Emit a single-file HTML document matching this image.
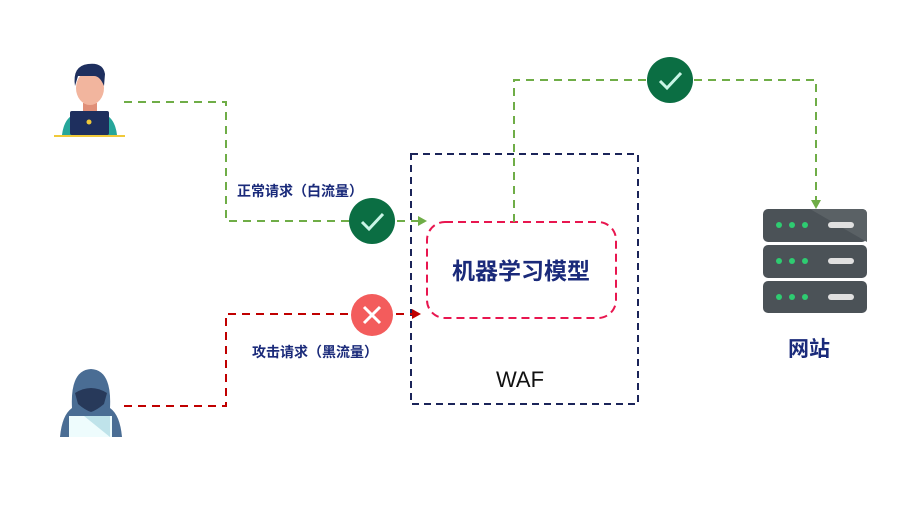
<!DOCTYPE html>
<html><head><meta charset="utf-8"><style>
html,body{margin:0;padding:0;background:#fff;}
svg{display:block;}
text{font-family:"Liberation Sans","Noto Sans CJK SC",sans-serif;}
</style></head><body>
<svg width="924" height="505" viewBox="0 0 924 505" xmlns="http://www.w3.org/2000/svg">
<rect x="411" y="154" width="227" height="250" fill="none" stroke="#1b2459" stroke-width="2" stroke-dasharray="7,5"/>
<rect x="427" y="222" width="189" height="96" rx="18" fill="none" stroke="#e8164f" stroke-width="2" stroke-dasharray="8,5"/>
<text x="521" y="279" text-anchor="middle" font-size="23" font-weight="bold" fill="#1a2a7a">机器学习模型</text>
<text x="520" y="387" text-anchor="middle" font-size="22" fill="#111">WAF</text>

<polyline points="124,102 226,102 226,221 418,221" fill="none" stroke="#6fad47" stroke-width="2" stroke-dasharray="8,6"/>
<polygon points="418,216 427,221 418,226" fill="#6fad47"/>
<polyline points="124,406 226,406 226,314 412,314" fill="none" stroke="#c00000" stroke-width="2" stroke-dasharray="8,6"/>
<polygon points="412,309 421,314 412,319" fill="#c00000"/>
<polyline points="514,222 514,80 816,80 816,200" fill="none" stroke="#6fad47" stroke-width="2" stroke-dasharray="8,6"/>
<polygon points="811,200 816,209 821,200" fill="#6fad47"/>

<circle cx="372" cy="221" r="23" fill="#0b6e43"/>
<polyline points="362,222 369,229 383,214" fill="none" stroke="#c9f5e6" stroke-width="3"/>
<circle cx="670" cy="80" r="23" fill="#0b6e43"/>
<polyline points="660,81 667,88 681,73" fill="none" stroke="#c9f5e6" stroke-width="3"/>
<circle cx="372" cy="315" r="21" fill="#f35c5c"/>
<path d="M364,307 L380,323 M380,307 L364,323" stroke="#fff" stroke-width="3"/>

<text x="237" y="196" font-size="14" font-weight="bold" fill="#1a2a7a">正常请求（白流量）</text>
<text x="252" y="357" font-size="14" font-weight="bold" fill="#1a2a7a">攻击请求（黑流量）</text>

<rect x="54" y="135" width="71" height="2" fill="#f0c93a"/>
<path d="M62,135 Q64,118 75,114 L104,114 Q115,118 117,135 Z" fill="#26a69a"/>
<rect x="83" y="103" width="14" height="12" fill="#e08f78"/>
<ellipse cx="90" cy="88" rx="14" ry="17" fill="#f2b59e"/>
<path d="M75,86 Q72,66 88,64 Q103,62 105,74 L104,86 Q100,76 94,76 L78,76 Z" fill="#1e2f5e"/>
<rect x="70" y="111" width="39" height="24" rx="2" fill="#1e2f5e"/>
<circle cx="89" cy="122" r="2.5" fill="#f0c93a"/>

<path d="M60,437 Q62,415 72,408 Q70,370 91,369 Q112,370 110,408 Q120,415 122,437 Z" fill="#4a6d94"/>
<path d="M75,393 Q91,383 107,393 L104,404 Q97,410 91,412 Q85,410 78,404 Z" fill="#27395a"/>
<rect x="69" y="416" width="43" height="21" fill="#eefcfd"/>
<path d="M84,416 L110,416 L110,437 Z" fill="#bfe3ea"/>

<g>
<rect x="763" y="209" width="104" height="33" rx="5" fill="#4b5257"/>
<rect x="763" y="245" width="104" height="33" rx="5" fill="#4b5257"/>
<rect x="763" y="281" width="104" height="32" rx="5" fill="#4b5257"/>
<path d="M810,209 L862,209 Q867,209 867,214 L867,242 Z" fill="#5a6165"/>
<g fill="#2ecc71">
<circle cx="779" cy="225" r="3"/><circle cx="792" cy="225" r="3"/><circle cx="805" cy="225" r="3"/>
<circle cx="779" cy="261" r="3"/><circle cx="792" cy="261" r="3"/><circle cx="805" cy="261" r="3"/>
<circle cx="779" cy="297" r="3"/><circle cx="792" cy="297" r="3"/><circle cx="805" cy="297" r="3"/>
</g>
<g fill="#e0e0e0">
<rect x="828" y="222" width="26" height="6" rx="3"/>
<rect x="828" y="258" width="26" height="6" rx="3"/>
<rect x="828" y="294" width="26" height="6" rx="3"/>
</g>
</g>
<text x="809" y="356" text-anchor="middle" font-size="21" font-weight="bold" fill="#1a2a7a">网站</text>
</svg>
</body></html>
